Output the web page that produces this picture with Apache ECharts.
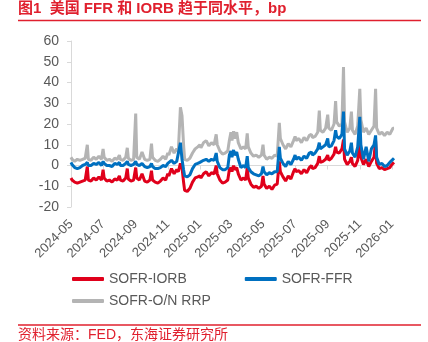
<!DOCTYPE html>
<html><head><meta charset="utf-8">
<script src="https://cdn.jsdelivr.net/npm/echarts@6/dist/echarts.min.js"></script>
<style>html,body{margin:0;padding:0;background:#fff}#c{width:428px;height:342px}</style>
</head><body><div id="c"></div>
<script>
// sample dates (picture time axis)
const dates = [
 '2024-05-01','2024-05-03','2024-05-08','2024-05-13','2024-05-18','2024-05-23','2024-05-28',
 '2024-06-01','2024-06-03','2024-06-08','2024-06-13','2024-06-18','2024-06-23','2024-06-28',
 '2024-07-01','2024-07-03','2024-07-08','2024-07-13','2024-07-18','2024-07-23','2024-07-28',
 '2024-08-01','2024-08-03','2024-08-08','2024-08-13','2024-08-16','2024-08-18','2024-08-23','2024-08-28',
 '2024-09-01','2024-09-03','2024-09-08','2024-09-13','2024-09-18','2024-09-23','2024-09-28',
 '2024-10-01','2024-10-03','2024-10-08','2024-10-13','2024-10-18','2024-10-23','2024-10-28',
 '2024-11-01','2024-11-03','2024-11-08','2024-11-13','2024-11-18','2024-11-21','2024-11-25','2024-11-28',
 '2024-12-01','2024-12-03','2024-12-08','2024-12-13','2024-12-18','2024-12-23','2024-12-28',
 '2025-01-01','2025-01-03','2025-01-08','2025-01-13','2025-01-18','2025-01-23','2025-01-28',
 '2025-02-01','2025-02-03','2025-02-08','2025-02-13','2025-02-18','2025-02-23','2025-02-26',
 '2025-03-01','2025-03-03','2025-03-06','2025-03-08','2025-03-12','2025-03-15','2025-03-20','2025-03-25','2025-03-29',
 '2025-04-01','2025-04-03','2025-04-08','2025-04-13','2025-04-18','2025-04-23','2025-04-28',
 '2025-05-01','2025-05-03','2025-05-08','2025-05-13','2025-05-18','2025-05-23','2025-05-28',
 '2025-06-01','2025-06-03','2025-06-08','2025-06-13','2025-06-18','2025-06-23','2025-06-28',
 '2025-07-01','2025-07-03','2025-07-08','2025-07-13','2025-07-18','2025-07-23','2025-07-28',
 '2025-08-01','2025-08-03','2025-08-08','2025-08-13','2025-08-16','2025-08-18','2025-08-23','2025-08-28',
 '2025-09-01','2025-09-03','2025-09-08','2025-09-13','2025-09-16','2025-09-18','2025-09-23','2025-09-28',
 '2025-10-01','2025-10-03','2025-10-08','2025-10-13','2025-10-16','2025-10-18','2025-10-23','2025-10-28',
 '2025-11-01','2025-11-03','2025-11-08','2025-11-13','2025-11-18','2025-11-23','2025-11-28',
 '2025-12-01','2025-12-03','2025-12-08','2025-12-13','2025-12-18','2025-12-23','2025-12-28',
 '2026-01-01','2026-01-03','2026-01-05'
];
const sofrIorb = [
 -6,-7,-8,-8.5,-8,-7.5,-7,
 -0.5,-7,-7.5,-6,-7,-5.5,-7,
 -2,-6,-7.5,-7,-8,-6.5,-7,
 -5,-7,-7.5,-6,-1.5,-6.5,-7.5,-7,
 -1,-6,-7,-4,-7.5,-8,-7,
 -2.5,-7,-8,-8.5,-7.5,-6,-7,
 -4,-5,-1.5,-4,-2,-3,1,-1,
 -8,-12,-12.5,-11,-8,-6,-5.5,
 -5,-6,-4,-3,-5,-3.5,-4,
 0,-4,-7,-8.5,-8,-7,-2,
 -1,-3,0,-2,-1,-4,-7,-6,-7,
 -1,-6,-9,-10.5,-10,-11,-10,
 -5,-9,-11,-10,-11.5,-9.5,-9,
 2,-3,-5.5,-7.5,-5,-6.5,-3,
 -1.5,-3,-2.5,-4,-2,-3.5,-1,
 0,-1.5,-1,1,4.5,1.5,2,3,
 5,2.5,3.5,5.5,9,6.5,6,8,
 12.5,3,0.5,2,4,1,-0.5,2.5,
 13,4,0.5,3,-0.5,2,4,
 12,1,-1.5,-1,-2,-1.5,-1,
 0.5,1,1.5
];
const sofrFfr = [
 1.5,0.5,-1,-1.5,-1,0,0.5,
 1.5,0,0,1,0.5,1.5,0,
 2,1,0,0,-0.5,1,0.5,
 1.5,0,0,1,2,0.5,0,0.5,
 2,0.5,0,1,-0.5,-1,-0.5,
 1,-0.5,-1.5,-1.5,-1,0,-0.5,
 1,0.5,2.5,1,2,1.5,11,3,
 -2,-5,-5.5,-4.5,-1.5,0.5,1,
 1.5,1,2.5,3,2,3,2.5,
 6,2,-1,-2,-2,-1,5,
 7,4,7.5,5,6.5,3,-1,0,-1,
 4.5,-1,-3,-4,-4.5,-5,-4,
 -0.5,-3,-4.5,-3.5,-4,-3,-3,
 9,3.5,1,-0.5,2,0.5,3,
 5,3,4,2.5,4.5,3.5,6,
 6.5,5,6,8,11,8,9,10,
 13,9,9.5,12,17,14,13,15,
 26,8,5,7,11,6,4,9,
 23.5,10,3,9,2,8,10,
 14.5,4,0.5,1,-0.5,0,1.5,
 2.5,3,3.5
];
const sofrRrp = [
 4,3,2,3,2.5,3,3.5,
 10,3,2.5,4,3,4.5,3,
 8,4,2.5,3,2,3.5,3,
 5,3,2.5,4,8.5,3.5,2.5,3,
 25,4,3,6.5,3,2.5,3,
 10.5,4,2.5,2,3,4.5,3,
 6,5,9,6,8,7,28,24,
 10,3,2.5,3.5,6,8,9,
 10,8.5,11,12,9.5,11,10,
 15,10,7,5.5,6,7,12,
 16,12,16.5,13,16,11,8,9,8,
 15.5,9,6,4.5,5,4,5,
 10,5,3,4,3.5,5,4.5,
 20.5,13,10,8,10.5,9,12,
 14,12,13,11,13.5,12,14.5,
 15,13.5,14,16,26.5,17,16,18,
 24.5,18,17,20,31,21,19,20,
 47.5,21,16,18,26,17,15,19,
 37,22,16,18,15,17,19,
 37,18,15,16,14.5,16,15,
 17,18,18
];
const seriesNames = ['SOFR-IORB','SOFR-FFR','SOFR-O/N RRP'];
const tickMonths = ['2024-05','2024-07','2024-09','2024-11','2025-01','2025-03','2025-05','2025-07','2025-09','2025-11','2026-01'];
const yTicks = [-20,-10,0,10,20,30,40,50,60];

const FONT = '"Liberation Sans", Arial, "Noto Sans CJK SC", sans-serif';
const RED = '#e0001b', BLUE = '#0070c0', GRAY = '#b4b4b4', TXT = '#595959', TITLE = '#e0202e';
function toTs(s){ const p=s.split('-'); return new Date(+p[0], +p[1]-1, p[2]? +p[2]:1).getTime(); }
const tickTs = tickMonths.map(toTs);
const xMin = toTs('2024-05-01'), xMax = toTs('2026-01-05');
function pair(arr){ return dates.map((d,i)=>[toTs(d), arr[i]]); }
function fmt(v){ const d=new Date(v); return d.getFullYear()+'-'+String(d.getMonth()+1).padStart(2,'0'); }

const chart = echarts.init(document.getElementById('c'), null, {renderer:'canvas'});
chart.setOption({
  animation:false,
  textStyle:{fontFamily:FONT},
  grid:{left:71, right:34, top:41, bottom:135, containLabel:false},
  xAxis:[{
    type:'value', min:xMin, max:xMax, scale:true,
    axisLine:{show:true, onZero:true, lineStyle:{color:'#d9d9d9', width:1}},
    axisTick:{show:true, customValues:tickTs, length:4, lineStyle:{color:'#d9d9d9'}},
    axisLabel:{show:false}, splitLine:{show:false}
  },{
    type:'value', min:xMin, max:xMax, scale:true, position:'bottom',
    axisLine:{show:false, onZero:false}, axisTick:{show:false}, splitLine:{show:false},
    axisLabel:{show:true, customValues:tickTs, rotate:45, margin:15, color:TXT, fontSize:13, fontFamily:FONT, formatter:fmt}
  }],
  yAxis:{
    type:'value', min:yTicks[0], max:yTicks[yTicks.length-1], interval:10,
    axisLine:{show:true, lineStyle:{color:'#d9d9d9'}},
    axisTick:{show:true, length:4, lineStyle:{color:'#d9d9d9'}},
    axisLabel:{color:TXT, fontSize:14, margin:12, fontFamily:FONT},
    splitLine:{show:false}
  },
  legend:[{
    data:[seriesNames[0], seriesNames[1]], left:72, top:272, itemGap:58, padding:0,
    itemWidth:32, itemHeight:4, icon:'roundRect',
    textStyle:{color:TXT, fontSize:14, fontFamily:FONT}
  },{
    data:[seriesNames[2]], left:72, top:294, padding:0,
    itemWidth:32, itemHeight:4, icon:'roundRect',
    textStyle:{color:TXT, fontSize:14, fontFamily:FONT}
  }],
  series:[
    {name:seriesNames[2], type:'line', data:pair(sofrRrp), showSymbol:false, symbol:'none', z:1, color:GRAY, lineStyle:{color:GRAY, width:3}},
    {name:seriesNames[0], type:'line', data:pair(sofrIorb), showSymbol:false, symbol:'none', z:2, color:RED, lineStyle:{color:RED, width:3}},
    {name:seriesNames[1], type:'line', data:pair(sofrFfr), showSymbol:false, symbol:'none', z:3, color:BLUE, lineStyle:{color:BLUE, width:3}}
  ],
  graphic:[
    {type:'text', left:18, top:1, style:{text:'图1  美国 FFR 和 IORB 趋于同水平，bp', fill:TITLE, font:'bold 15px '+FONT}},
    {type:'line', shape:{x1:18, y1:20.5, x2:421, y2:20.5}, style:{stroke:TITLE, lineWidth:1.5}},
    {type:'line', shape:{x1:18, y1:325, x2:421, y2:325}, style:{stroke:TITLE, lineWidth:1.5}},
    {type:'text', left:18, top:328, style:{text:'资料来源：FED，东海证券研究所', fill:TITLE, font:'14px '+FONT}}
  ]
});
</script></body></html>
